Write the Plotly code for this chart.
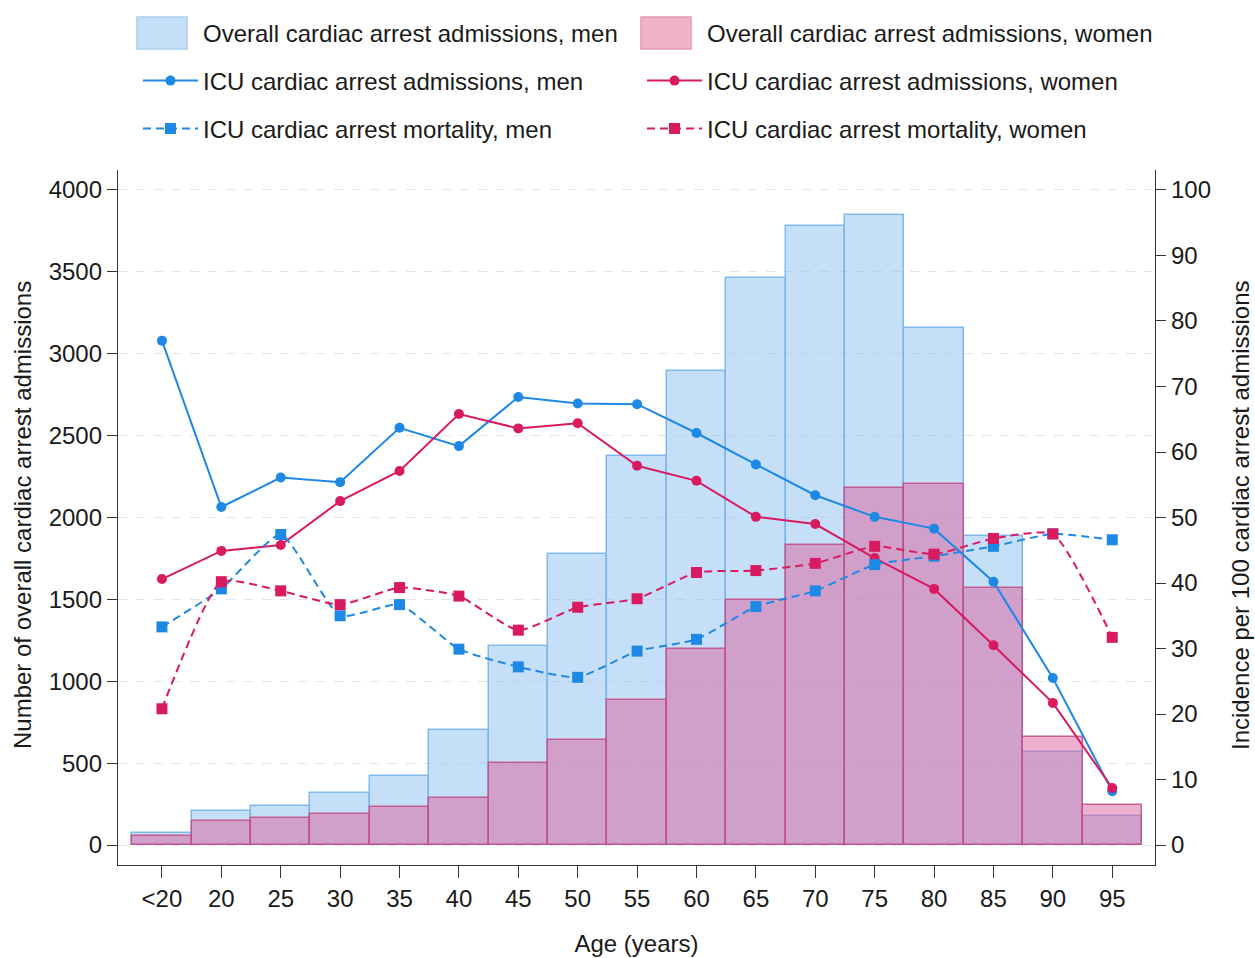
import plotly.graph_objects as go

age_groups = ["<20", "20", "25", "30", "35", "40", "45", "50", "55", "60",
              "65", "70", "75", "80", "85", "90", "95"]
overall_men = [75, 205, 240, 320, 420, 705, 1215, 1775, 2375, 2895,
               3460, 3780, 3850, 3155, 1885, 570, 175]
overall_women = [55, 145, 165, 190, 235, 290, 500, 640, 885, 1195,
                 1495, 1830, 2180, 2205, 1570, 660, 245]
icu_adm_men = [77.0, 51.6, 56.1, 55.4, 63.7, 60.9, 68.4, 67.4, 67.3, 62.9,
               58.1, 53.4, 50.1, 48.3, 40.2, 25.5, 8.2]
icu_adm_women = [40.6, 44.9, 45.8, 52.5, 57.1, 65.8, 63.6, 64.4, 57.9, 55.6,
                 50.1, 49.0, 43.8, 39.1, 30.5, 21.7, 8.7]
icu_mort_men = [33.3, 39.1, 47.4, 35.0, 36.7, 29.9, 27.2, 25.6, 29.6, 31.4,
                36.4, 38.8, 42.8, 44.1, 45.6, 47.5, 46.6]
icu_mort_women = [20.8, 40.2, 38.8, 36.7, 39.3, 38.0, 32.8, 36.3, 37.6, 41.6,
                  41.9, 43.0, 45.6, 44.4, 46.8, 47.5, 31.7]

left_ticks = list(range(0, 4001, 500))
right_ticks = list(range(0, 101, 10))

BLUE = "#1E88E5"
RED = "#D81B60"
FONT = "Liberation Sans, Arial, sans-serif"
TXT = "#1a1a1a"

W, H = 1255, 958
ML, MR, MT, MB = 118, 100, 170, 93
PW, PH = W - ML - MR, H - MT - MB


def px(x):
    return (x - ML) / PW


def py(y):
    return (H - MB - y) / PH


MEN_BAR_FILL = "rgba(140,192,242,0.5)"
MEN_BAR_LINE = "rgba(120,178,235,0.9)"
WOMEN_BAR_FILL = "rgba(219,97,158,0.5)"
WOMEN_BAR_LINE = "rgba(195,75,135,0.85)"

fig = go.Figure()

fig.add_trace(go.Bar(
    x=age_groups, y=overall_men, name="Overall cardiac arrest admissions, men",
    marker=dict(color=MEN_BAR_FILL, line=dict(color=MEN_BAR_LINE, width=1.5)),
    showlegend=False))
fig.add_trace(go.Bar(
    x=age_groups, y=overall_women, name="Overall cardiac arrest admissions, women",
    marker=dict(color=WOMEN_BAR_FILL, line=dict(color=WOMEN_BAR_LINE, width=1.5)),
    showlegend=False))

fig.add_trace(go.Scatter(
    x=age_groups, y=icu_adm_men, yaxis="y2", mode="lines+markers",
    name="ICU cardiac arrest admissions, men",
    line=dict(color=BLUE, width=2), marker=dict(symbol="circle", size=10, color=BLUE),
    legend="legend"))
fig.add_trace(go.Scatter(
    x=age_groups, y=icu_adm_women, yaxis="y2", mode="lines+markers",
    name="ICU cardiac arrest admissions, women",
    line=dict(color=RED, width=2), marker=dict(symbol="circle", size=10, color=RED),
    legend="legend2"))
fig.add_trace(go.Scatter(
    x=age_groups, y=icu_mort_men, yaxis="y2", mode="lines+markers",
    name="ICU cardiac arrest mortality, men",
    line=dict(color=BLUE, width=2, dash="8px,5px", shape="spline", smoothing=0.5),
    marker=dict(symbol="square", size=11, color=BLUE),
    legend="legend3"))
fig.add_trace(go.Scatter(
    x=age_groups, y=icu_mort_women, yaxis="y2", mode="lines+markers",
    name="ICU cardiac arrest mortality, women",
    line=dict(color=RED, width=2, dash="8px,5px", shape="spline", smoothing=0.5),
    marker=dict(symbol="square", size=11, color=RED),
    legend="legend4"))


def leg(xpix, ypix):
    return dict(orientation="v", xref="container", yref="container",
                x=xpix / W, y=1 - ypix / H, xanchor="left", yanchor="middle",
                itemwidth=55, font=dict(family=FONT, size=24, color=TXT),
                bgcolor="rgba(0,0,0,0)")


COL1_TEXT, COL2_TEXT = 203, 707
ROW_Y = [33, 81, 129]

shapes = []
annotations = []
# bar legend entries (large boxes, as in the reference)
for col_text, fill, line, label in [
        (COL1_TEXT, "#C6DFF8", "#A9CFF2", "Overall cardiac arrest admissions, men"),
        (COL2_TEXT, "#F0B4C8", "#E29AB4", "Overall cardiac arrest admissions, women")]:
    x0 = col_text - 66
    shapes.append(dict(type="rect", xref="paper", yref="paper",
                       x0=px(x0), x1=px(x0 + 50),
                       y0=py(ROW_Y[0] + 16), y1=py(ROW_Y[0] - 16),
                       fillcolor=fill, line=dict(color=line, width=1.5)))
    annotations.append(dict(text=label, xref="paper", yref="paper",
                            x=px(col_text - 2), y=py(ROW_Y[0]),
                            xanchor="left", yanchor="middle", showarrow=False,
                            font=dict(family=FONT, size=24, color=TXT)))

# vertical axis titles
annotations.append(dict(text="Number of overall cardiac arrest admissions",
                        xref="paper", yref="paper", x=px(22), y=py(515),
                        xanchor="center", yanchor="middle", textangle=-90,
                        showarrow=False, font=dict(family=FONT, size=24, color=TXT)))
annotations.append(dict(text="Incidence per 100 cardiac arrest admissions",
                        xref="paper", yref="paper", x=px(1240), y=py(515),
                        xanchor="center", yanchor="middle", textangle=-90,
                        showarrow=False, font=dict(family=FONT, size=24, color=TXT)))

axis_common = dict(showline=True, linecolor="#333", linewidth=1.3,
                   ticks="outside", tickcolor="#333",
                   tickfont=dict(size=24, color=TXT),
                   automargin=False, zeroline=False)

fig.update_layout(
    width=W, height=H,
    paper_bgcolor="white", plot_bgcolor="white",
    margin=dict(l=ML, r=MR, t=MT, b=MB, autoexpand=False),
    barmode="overlay", bargap=0,
    font=dict(family=FONT, size=24, color=TXT),
    legend=leg(COL1_TEXT - 65, ROW_Y[1]),
    legend2=leg(COL2_TEXT - 65, ROW_Y[1]),
    legend3=leg(COL1_TEXT - 65, ROW_Y[2]),
    legend4=leg(COL2_TEXT - 65, ROW_Y[2]),
    shapes=shapes,
    annotations=annotations,
    xaxis=dict(**axis_common, type="category", range=[-0.74, 16.72],
               ticklen=12, showgrid=False,
               title=dict(text="Age (years)", font=dict(size=24, color=TXT), standoff=24)),
    yaxis=dict(**axis_common, range=[-122, 4122], tickvals=left_ticks, ticklen=10,
               showgrid=True, gridcolor="#E4E4E4", griddash="dash", gridwidth=1),
    yaxis2=dict(**axis_common, range=[-3.05, 103.05], tickvals=right_ticks,
                overlaying="y", side="right", ticklen=10, showgrid=False),
)

fig.write_html("out.html",
               config={"displayModeBar": False},
               post_script="document.body.style.margin='0';"
                           "document.body.style.overflow='hidden';")
